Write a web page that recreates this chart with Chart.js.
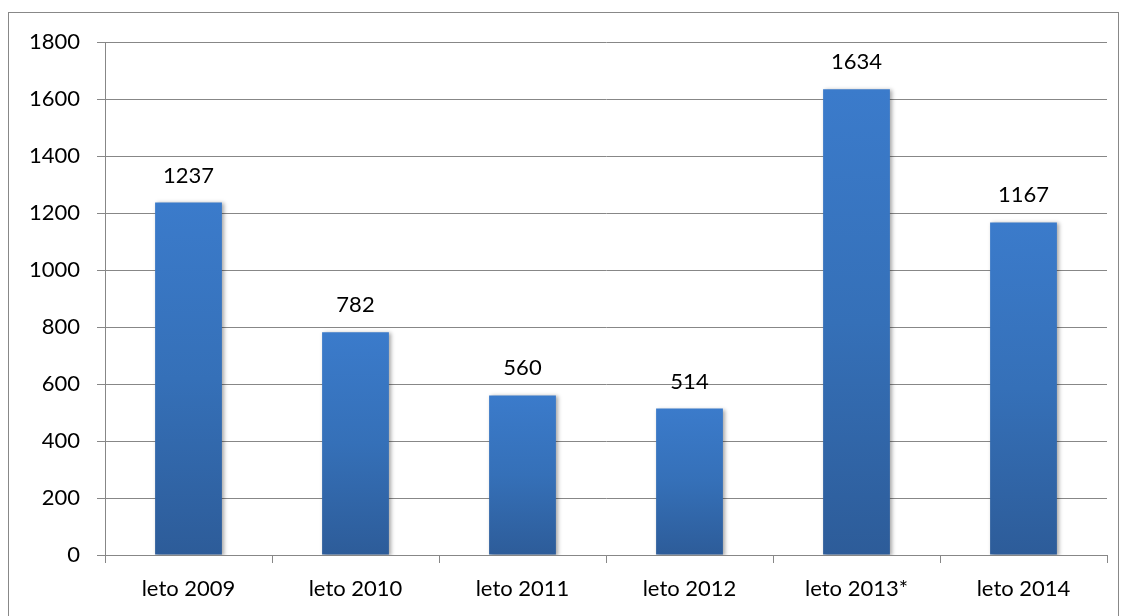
<!DOCTYPE html>
<html>
<head>
<meta charset="utf-8">
<script src="https://cdn.jsdelivr.net/npm/chart.js@4/dist/chart.umd.min.js"></script>
<style>
  html, body { margin: 0; padding: 0; background: #fff; }
  #wrap { width: 1122px; height: 616px; }
</style>
</head>
<body>
<div id="wrap"><canvas id="chart" width="1122" height="616"></canvas></div>
<script>
const categories = ['leto 2009', 'leto 2010', 'leto 2011', 'leto 2012', 'leto 2013*', 'leto 2014'];
const values = [1237, 782, 560, 514, 1634, 1167];
const yMax = 1800;
const yStep = 200;

const FONT = 'Lato, "Open Sans", sans-serif';
const GRID = '#878787';
const FSIZE = 22;

// outer frame like the Excel chart border
const framePlugin = {
  id: 'frame',
  beforeDraw(chart) {
    const c = chart.ctx;
    c.save();
    c.strokeStyle = '#888';
    c.lineWidth = 1;
    c.strokeRect(8.5, 12.5, 1110, 620);
    c.restore();
  }
};

// soft shadow under bars
const shadowPlugin = {
  id: 'barShadow',
  beforeDatasetDraw(chart) {
    const c = chart.ctx;
    c.save();
    c.shadowColor = 'rgba(0,0,0,0.35)';
    c.shadowBlur = 4;
    c.shadowOffsetX = 2;
    c.shadowOffsetY = 1;
  },
  afterDatasetDraw(chart) {
    chart.ctx.restore();
  }
};

// value labels above bars
const labelPlugin = {
  id: 'valueLabels',
  afterDatasetsDraw(chart) {
    const c = chart.ctx;
    const meta = chart.getDatasetMeta(0);
    c.save();
    c.font = FSIZE + 'px ' + FONT;
    c.fillStyle = '#000';
    c.textAlign = 'center';
    c.textBaseline = 'middle';
    meta.data.forEach((bar, i) => {
      c.fillText(String(values[i]), bar.x, bar.y - 27);
    });
    c.restore();
  }
};

function barGradient(context) {
  const chart = context.chart;
  const y = chart.scales.y;
  if (!y || context.dataIndex === undefined) return '#3a78c6';
  const v = values[context.dataIndex];
  const top = y.getPixelForValue(v);
  const bottom = y.getPixelForValue(0);
  if (!isFinite(top) || !isFinite(bottom)) return '#3a78c6';
  const g = chart.ctx.createLinearGradient(0, top, 0, bottom);
  g.addColorStop(0, '#3b7bcb');
  g.addColorStop(0.5, '#3570b8');
  g.addColorStop(1, '#2d5c99');
  return g;
}

new Chart(document.getElementById('chart'), {
  type: 'bar',
  data: {
    labels: categories,
    datasets: [{
      data: values,
      backgroundColor: barGradient,
      borderWidth: 0,
      categoryPercentage: 1,
      barPercentage: 0.4
    }]
  },
  options: {
    responsive: false,
    animation: false,
    layout: { padding: { left: 0, top: 42, right: 15, bottom: 0 } },
    plugins: {
      legend: { display: false },
      tooltip: { enabled: false }
    },
    scales: {
      x: {
        grid: {
          display: true,
          drawOnChartArea: false,
          drawTicks: true,
          tickLength: 8,
          color: GRID,
          offset: true
        },
        border: { display: true, color: GRID, width: 1 },
        ticks: {
          color: '#000',
          font: { family: FONT, size: FSIZE },
          padding: 13,
          maxRotation: 0
        },
        afterFit(s) { s.height = 61; }
      },
      y: {
        min: 0,
        max: yMax,
        grid: {
          color: GRID,
          lineWidth: 1,
          tickLength: 8
        },
        border: { display: true, color: GRID, width: 1 },
        ticks: {
          stepSize: yStep,
          color: '#000',
          font: { family: FONT, size: FSIZE },
          padding: 17,
          callback: v => String(v)
        },
        afterFit(s) { s.width = 105; }
      }
    }
  },
  plugins: [framePlugin, shadowPlugin, labelPlugin]
});
</script>
</body>
</html>
